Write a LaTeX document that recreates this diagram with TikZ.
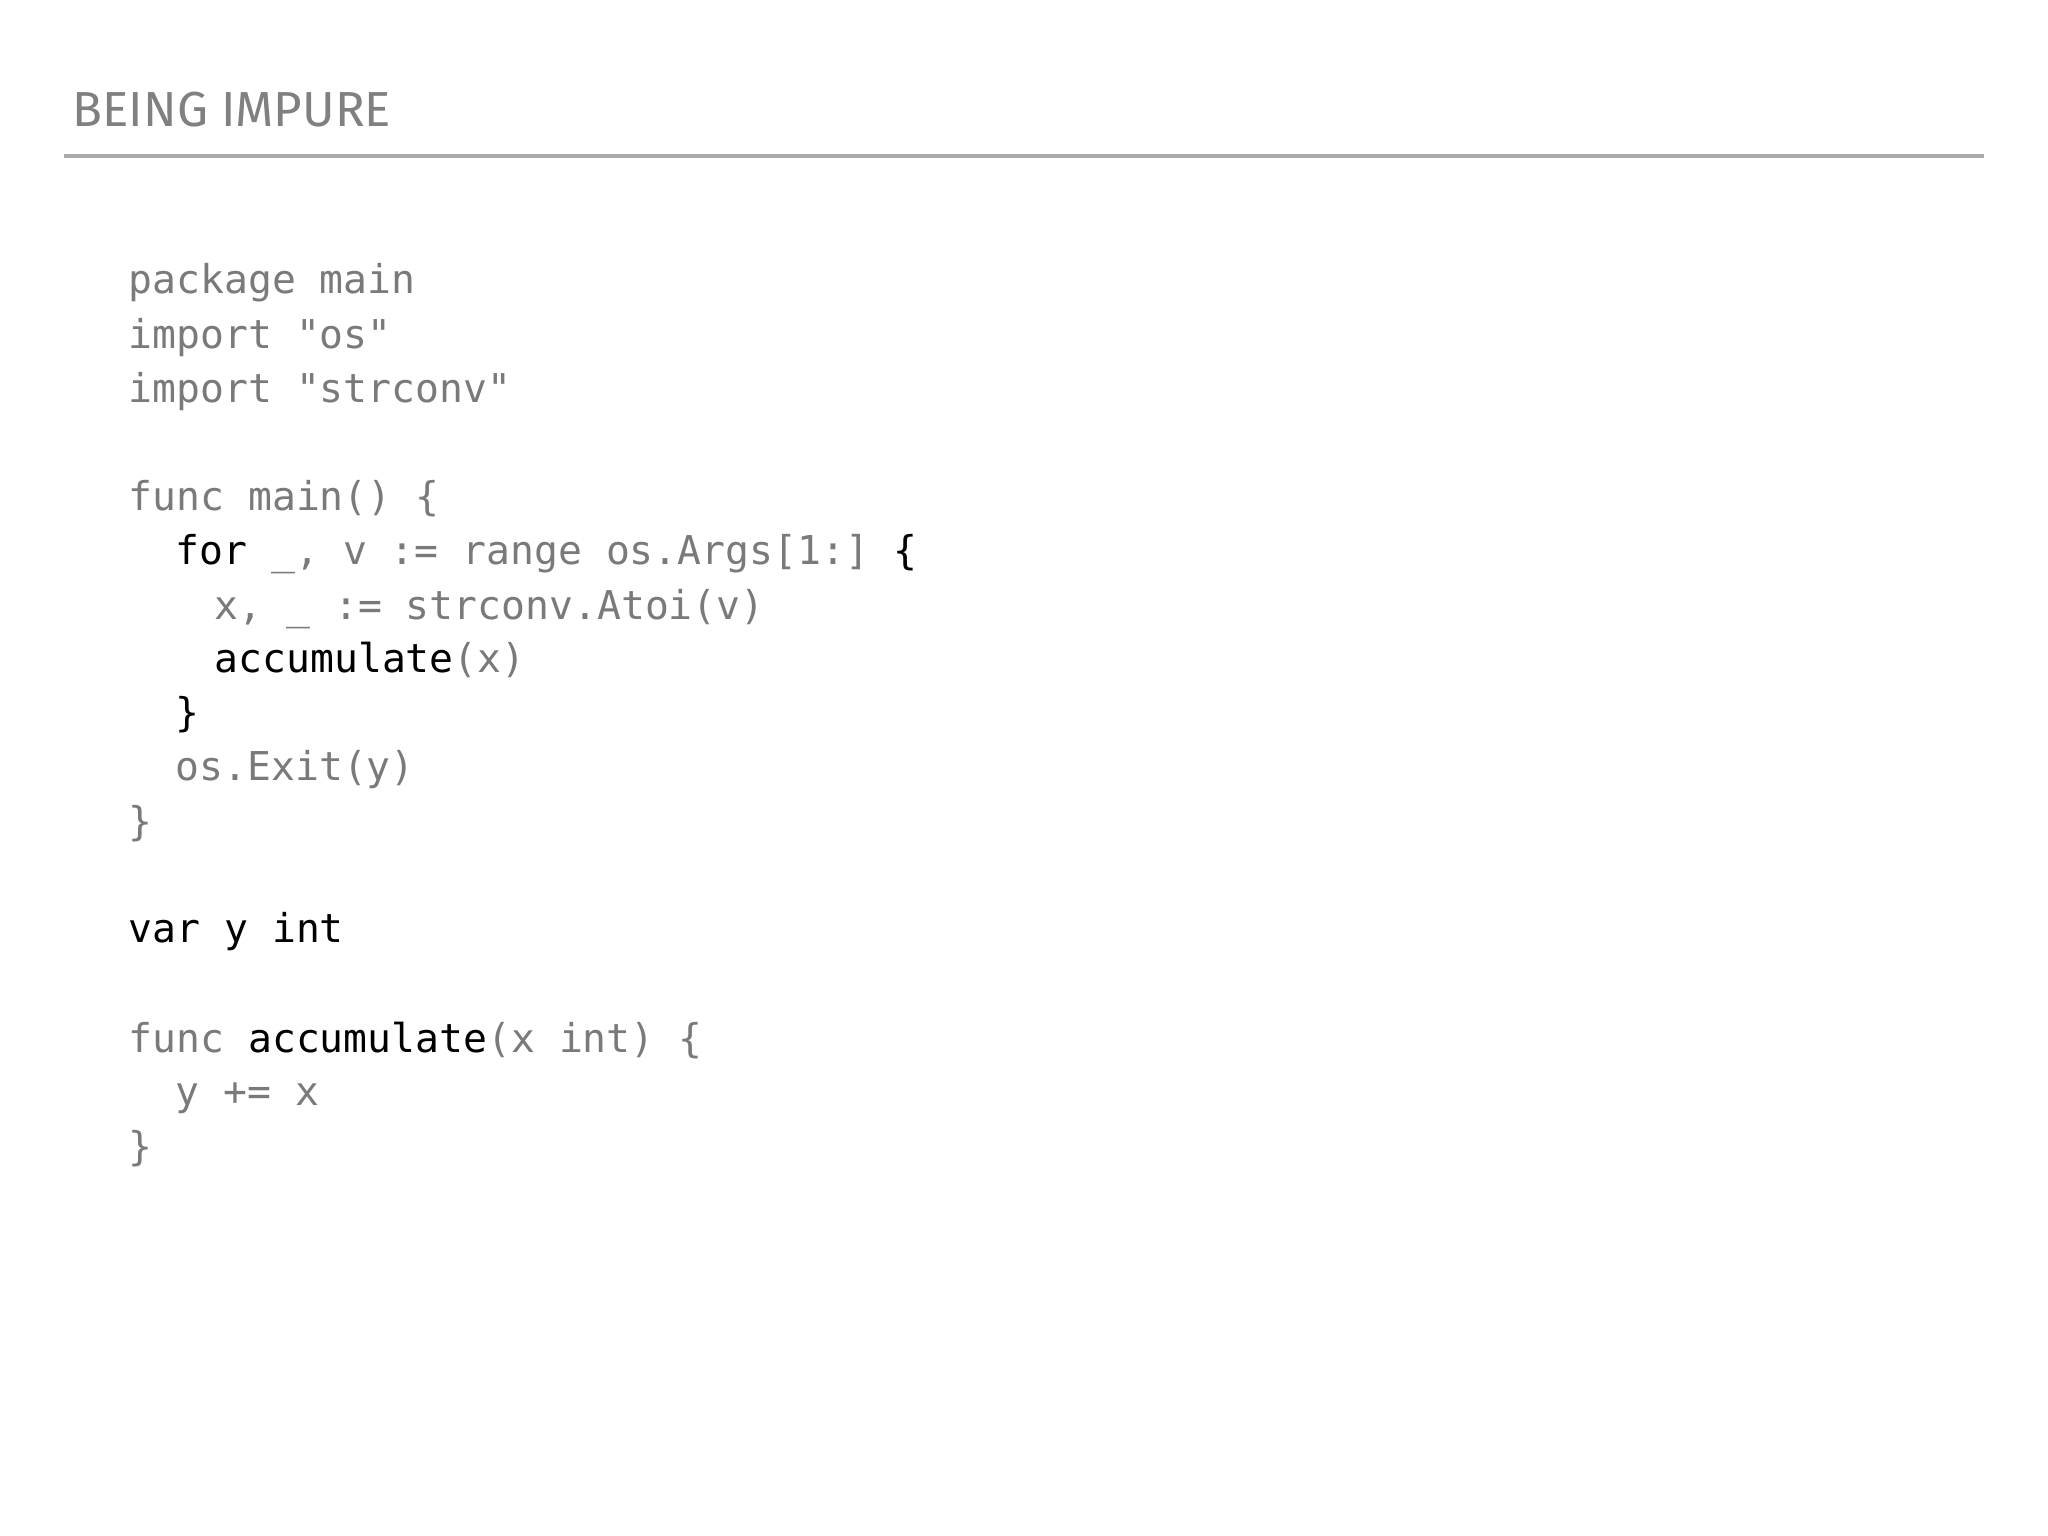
\documentclass[tikz,border=0pt]{standalone}
\usepackage{fontspec}
\setsansfont{Fira Sans}
\setmonofont{DejaVu Sans Mono}
\definecolor{codegray}{HTML}{7A7A7A}
\definecolor{titlegray}{HTML}{808080}
\definecolor{rulegray}{HTML}{AAAAAA}
\newcommand{\K}[1]{\textcolor{black}{#1}}
\begin{document}
\begin{tikzpicture}[x=1cm,y=-1cm,
  code/.style={anchor=base west,inner sep=0pt,font=\ttfamily\fontsize{11.3pt}{15pt}\selectfont,text=codegray}]
\useasboundingbox[fill=white] (0,0) rectangle (20.48,15.36);
\node[anchor=base west,inner sep=0pt,font=\sffamily\fontsize{14pt}{18pt}\selectfont,text=titlegray] (title) at (0.72,1.27) {BEING IMPURE};
\coordinate (rl) at (0.64,1.56);
\coordinate (rr) at (19.84,1.56);
\draw[rulegray,line width=1.4pt] (rl) -- (rr);
\node[code] (l1) at (1.28,2.94) {package main};
\node[code] (l2) at (1.28,3.49) {import "os"};
\node[code] (l3) at (1.28,4.03) {import "strconv"};
\node[code] (l4) at (1.28,5.11) {func main() \{};
\node[code] (l5) at (1.75,5.65) {\K{for} \_, v := range os.Args[1:] \K{\{}};
\node[code] (l6) at (2.14,6.19) {x, \_ := strconv.Atoi(v)};
\node[code] (l7) at (2.14,6.73) {\K{accumulate}(x)};
\node[code] (l8) at (1.75,7.27) {\K{\}}};
\node[code] (l9) at (1.75,7.81) {os.Exit(y)};
\node[code] (l10) at (1.28,8.35) {\}};
\node[code] (l11) at (1.28,9.43) {\K{var y int}};
\node[code] (l12) at (1.28,10.52) {func \K{accumulate}(x int) \{};
\node[code] (l13) at (1.75,11.05) {y += x};
\node[code] (l14) at (1.28,11.60) {\}};
\end{tikzpicture}
\end{document}
